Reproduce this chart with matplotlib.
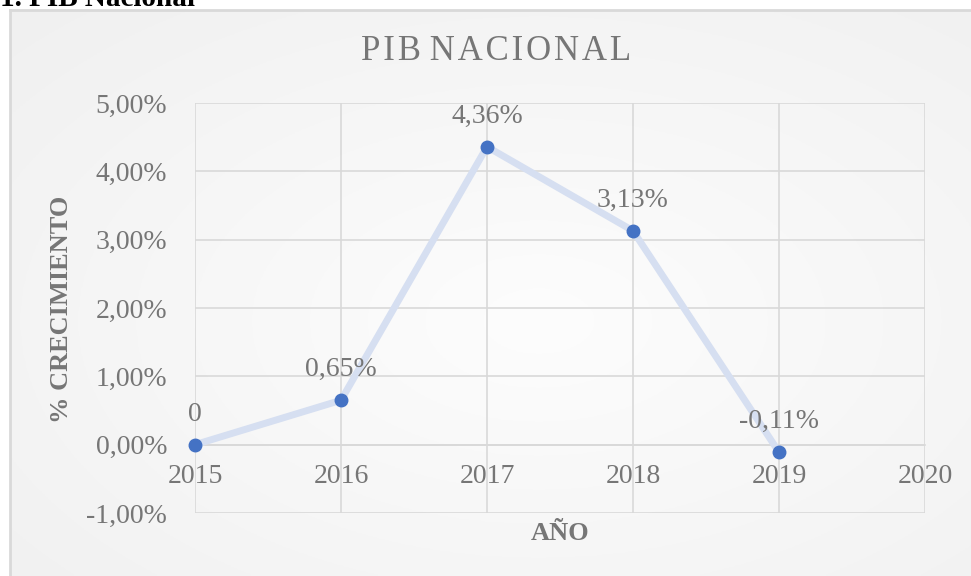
import numpy as np
import matplotlib.pyplot as plt
from matplotlib.ticker import FuncFormatter, MultipleLocator

# datos
anios = [2015, 2016, 2017, 2018, 2019]
crecimiento = [0.0, 0.0065, 0.0436, 0.0313, -0.0011]
etiquetas = ["0", "0,65%", "4,36%", "3,13%", "-0,11%"]

gris = "#767676"
rejilla = "#d9d9d9"
plt.rcParams['font.family'] = ['Liberation Serif', 'DejaVu Serif']

fig = plt.figure(figsize=(9.71, 5.76), dpi=100)
fig.patch.set_facecolor("white")

# fondo del grafico (degradado muy suave) con borde
bg = fig.add_axes([10/971, 0, 1 - 10/971, 1 - 10/576])
yy, xx = np.mgrid[0:1:200j, 0:1:300j]
r = np.clip(np.sqrt(((xx - 0.55) / 0.8) ** 2 + ((yy - 0.45) / 0.8) ** 2), 0, 1)
tono = 0.992 - 0.052 * r
img = np.dstack([tono, tono, tono])
bg.imshow(img, aspect="auto", extent=[0, 1, 0, 1], origin="lower")
bg.set_xlim(0, 1)
bg.set_ylim(0, 1)
bg.set_xticks([])
bg.set_yticks([])
for s in ["right", "bottom"]:
    bg.spines[s].set_visible(False)
for s in ["left", "top"]:
    bg.spines[s].set_color(rejilla)
    bg.spines[s].set_linewidth(2)

fig.text(0.0, 1 - 6/576, "1. PIB Nacional", fontsize=21, fontweight="bold",
         color="black", ha="left", va="baseline")

ax = fig.add_axes([195/971, 1 - 513/576, (925 - 195)/971, (513 - 103)/576])
ax.set_facecolor("none")
ax.plot(anios, crecimiento, color="#d6dff1", lw=5, zorder=3,
        solid_capstyle="round")
ax.plot(anios, crecimiento, "o", color="#4472c4", ms=9, zorder=4, clip_on=False)

for x, y, t in zip(anios, crecimiento, etiquetas):
    ax.annotate(t, (x, y), xytext=(0, 22), textcoords="offset points",
                ha="center", va="center", fontsize=20, color=gris)

ax.set_xlim(2015, 2020)
ax.set_ylim(-0.01, 0.05)
ax.xaxis.set_major_locator(MultipleLocator(1))
ax.yaxis.set_major_locator(MultipleLocator(0.01))
ax.yaxis.set_major_formatter(FuncFormatter(
    lambda v, p: ("%.2f%%" % (v * 100)).replace(".", ",").replace("-0,00", "0,00")))
ax.grid(True, color=rejilla, lw=1.2)
ax.set_axisbelow(True)
for s in ["left", "right", "top"]:
    ax.spines[s].set_visible(False)
ax.spines["bottom"].set_position(("data", 0))
ax.spines["bottom"].set_color(rejilla)
ax.spines["bottom"].set_linewidth(1.2)
ax.tick_params(axis="both", length=0, labelsize=20, labelcolor=gris)
ax.tick_params(axis="x", pad=14)
ax.tick_params(axis="y", pad=20)

fig.text(496/971, 1 - 52/576, "P I B   N A C I O N A L".replace(" ", "\u200a").replace("\u200a\u200a\u200a", " "),
         fontsize=25, color=gris, ha="center", va="center")
fig.text(61/971, 1 - 309/576, "% CRECIMIENTO", fontsize=19, fontweight="bold",
         color=gris, ha="center", va="center", rotation=90)
fig.text(560/971, 1 - 533/576, "AÑO", fontsize=19, fontweight="bold",
         color=gris, ha="center", va="center")

fig.savefig("out.png", dpi=100)
